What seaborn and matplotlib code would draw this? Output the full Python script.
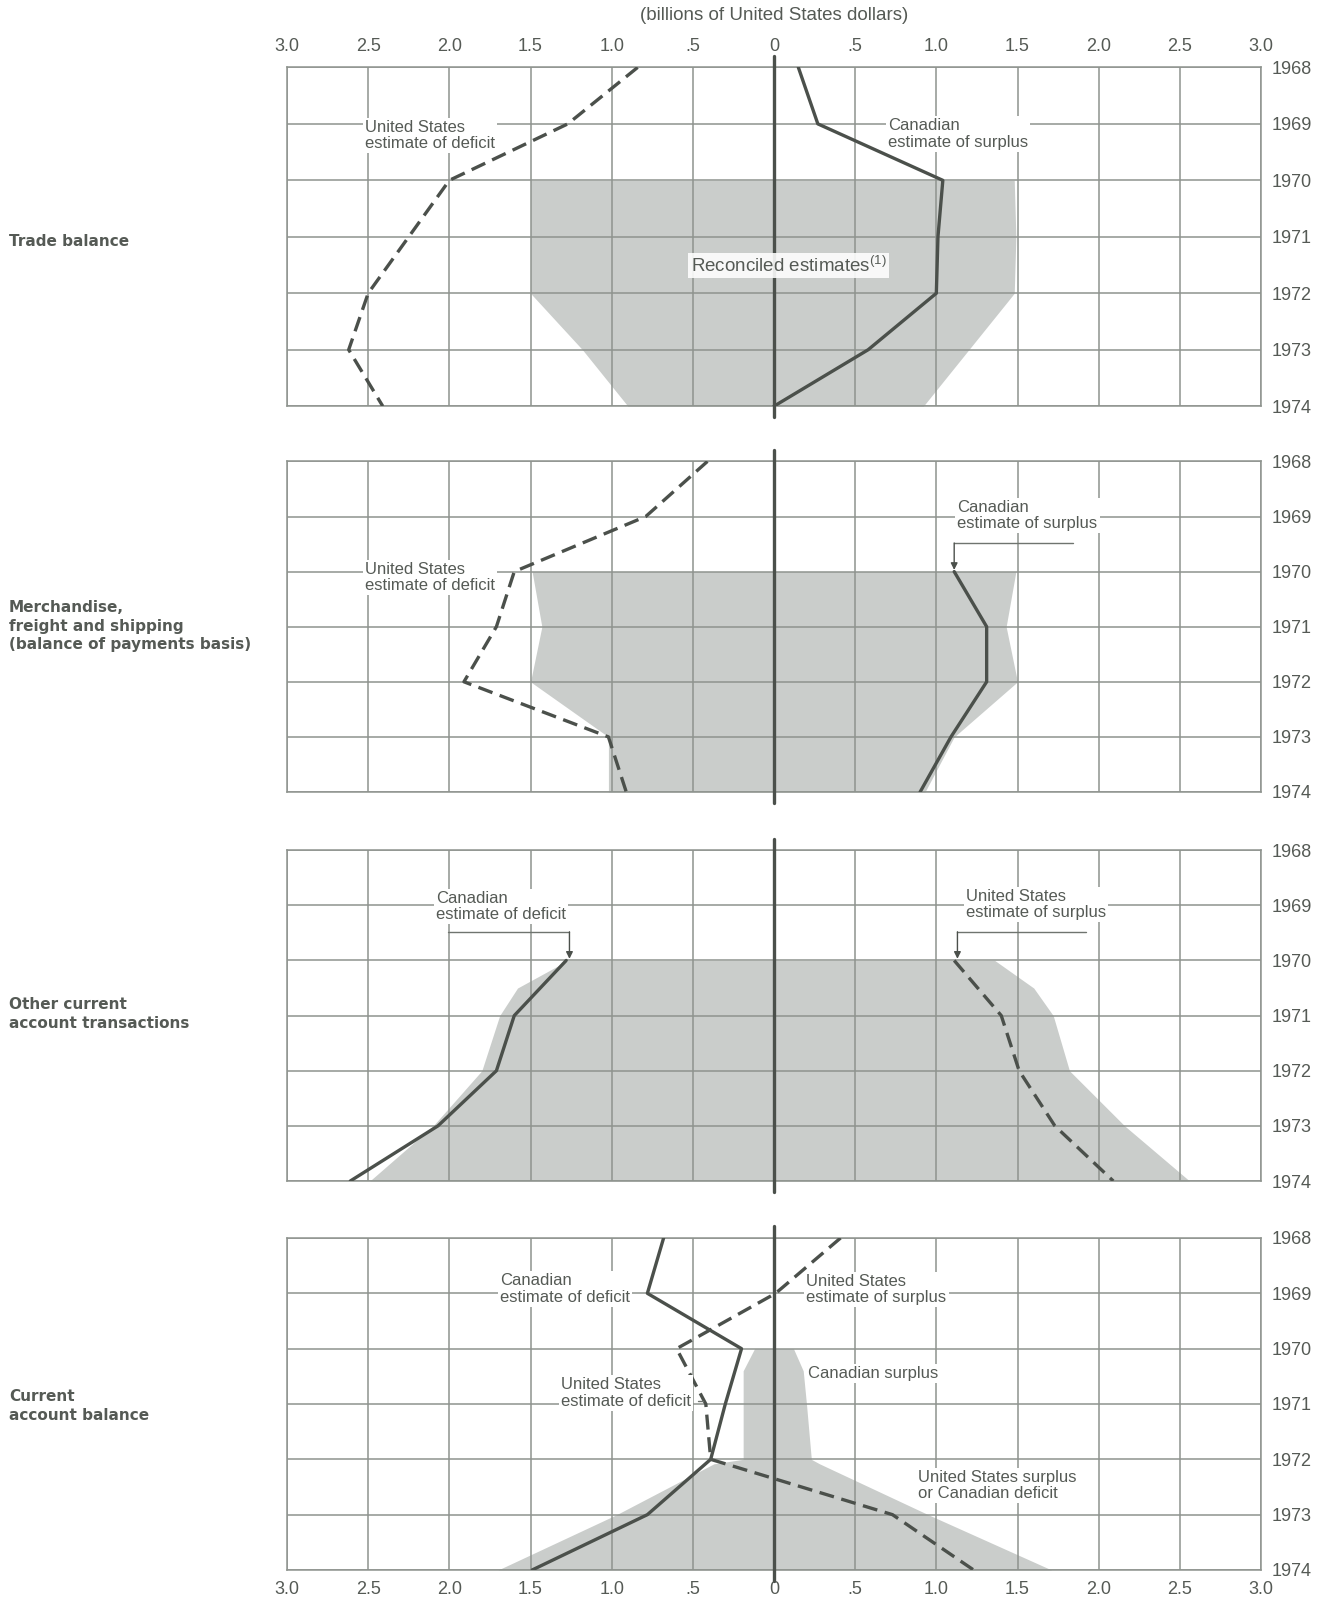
import matplotlib
matplotlib.use("Agg")
import matplotlib.pyplot as plt
import seaborn as sns

# ---------------------------------------------------------------
# Data (billions of US dollars; negative = plotted to the left)
# ---------------------------------------------------------------
years = [1968, 1969, 1970, 1971, 1972, 1973, 1974]
x_ticks = [-3.0, -2.5, -2.0, -1.5, -1.0, -0.5, 0.0, 0.5, 1.0, 1.5, 2.0, 2.5, 3.0]
x_tick_labels = ["3.0", "2.5", "2.0", "1.5", "1.0", ".5", "0",
                 ".5", "1.0", "1.5", "2.0", "2.5", "3.0"]
year_labels = ["1968", "1969", "1970", "1971", "1972", "1973", "1974"]

# Trade balance
trade_us_deficit = [-0.84, -1.27, -2.00, -2.25, -2.50, -2.62, -2.41]
trade_ca_surplus = [0.15, 0.27, 1.04, 1.01, 1.00, 0.58, 0.00]
trade_band_years = [1970, 1971, 1972, 1973, 1974]
trade_band_low = [-1.50, -1.50, -1.50, -1.18, -0.90]
trade_band_high = [1.48, 1.49, 1.48, 1.20, 0.92]

# Merchandise, freight and shipping
merch_us_deficit = [-0.41, -0.79, -1.60, -1.71, -1.91, -1.02, -0.91]
merch_ca_years = [1970, 1971, 1972, 1973, 1974]
merch_ca_surplus = [1.11, 1.31, 1.31, 1.09, 0.90]
merch_band_years = [1970, 1971, 1972, 1973, 1974]
merch_band_low = [-1.49, -1.43, -1.50, -1.02, -1.02]
merch_band_high = [1.49, 1.43, 1.50, 1.11, 0.93]

# Other current account transactions
other_years = [1970, 1971, 1972, 1973, 1974]
other_ca_deficit = [-1.28, -1.60, -1.71, -2.07, -2.61]
other_us_surplus = [1.11, 1.40, 1.51, 1.73, 2.09]
other_band_years = [1970, 1970.5, 1971, 1972, 1973, 1974]
other_band_low = [-1.27, -1.58, -1.69, -1.80, -2.10, -2.49]
other_band_high = [1.36, 1.60, 1.72, 1.82, 2.16, 2.56]

# Current account balance
current_ca = [-0.68, -0.78, -0.20, -0.30, -0.39, -0.78, -1.49]
current_us = [0.41, 0.01, -0.60, -0.42, -0.39, 0.73, 1.23]
current_band_years = [1970, 1970.4, 1971, 1972, 1972.08, 1973, 1974]
current_band_low = [-0.12, -0.19, -0.19, -0.19, -0.37, -0.97, -1.70]
current_band_high = [0.12, 0.18, 0.20, 0.23, 0.28, 0.95, 1.71]

# ---------------------------------------------------------------
# Style
# ---------------------------------------------------------------
sns.set_theme(style="white")
plt.rcParams["font.family"] = ["Liberation Sans", "DejaVu Sans"]
plt.rcParams["mathtext.default"] = "regular"

LINE = "#4b504b"
GRID = "#8e938e"
BAND = "#cacdcb"
TXT = "#555a55"
LEADER = "#6f746f"
DASH = (0, (4.5, 2.3))
NOTE_SIZE = 12

fig = plt.figure(figsize=(13.33, 16), dpi=100)

# panel extents in pixels (top, bottom)
panel_px = [(67.4, 406.2), (461.4, 792.0), (850.2, 1181.0), (1238.0, 1570.0)]
left, right = 287 / 1333, 1261 / 1333

axes = []
for i, (top, bot) in enumerate(panel_px):
    ax = fig.add_axes([left, 1 - bot / 1600, right - left, (bot - top) / 1600])
    ax.set_xlim(-3, 3)
    ax.set_ylim(1974, 1968)
    ax.set_xticks(x_ticks)
    ax.set_yticks(years)
    ax.set_yticklabels(year_labels)
    ax.yaxis.tick_right()
    ax.grid(True, color=GRID, lw=1.1, zorder=1)
    ax.set_axisbelow(False)
    ax.tick_params(axis="y", length=0, pad=8, labelsize=13, labelcolor=TXT,
                   left=False, right=False, labelleft=False, labelright=True)
    ax.tick_params(axis="x", length=0, labelsize=13, labelcolor=TXT)
    if i == 0:
        ax.xaxis.tick_top()
        ax.set_xticklabels(x_tick_labels)
        ax.tick_params(axis="x", pad=9, labeltop=True, labelbottom=False)
    elif i == 3:
        ax.set_xticklabels(x_tick_labels)
        ax.tick_params(axis="x", pad=8, labelbottom=True, labeltop=False)
    else:
        ax.tick_params(axis="x", labelbottom=False, labeltop=False)
    for sp in ax.spines.values():
        sp.set_color(GRID)
        sp.set_linewidth(1.1)
        sp.set_zorder(1)
    ax.set_xlabel("")
    ax.set_ylabel("")
    ax.axvline(0, ymin=-0.032, ymax=1.035, color=LINE, lw=2.4,
               clip_on=False, zorder=4)
    axes.append(ax)


def band(ax, ys, lo, hi):
    ax.fill_betweenx(ys, lo, hi, color=BAND, lw=0, zorder=0.5)


def series(ax, xs, ys, dashed=False):
    kw = dict(color=LINE, lw=2.4, estimator=None, sort=False, orient="y",
              ax=ax, zorder=4)
    sns.lineplot(x=xs, y=ys, **kw)
    if dashed:
        ax.lines[-1].set_linestyle(DASH)
        ax.lines[-1].set_dash_capstyle("butt")


def label(ax, x, y, s, ha="left"):
    ax.text(x, y, s, ha=ha, va="center", fontsize=NOTE_SIZE, color=TXT,
            linespacing=1.1, zorder=5,
            bbox=dict(facecolor="white", edgecolor="none", pad=1.5))


def leader(ax, x_from, x_to, y, y_end):
    ax.plot([x_from, x_to], [y, y], color=LEADER, lw=1.0, zorder=5)
    ax.annotate("", xy=(x_to, y_end), xytext=(x_to, y),
                arrowprops=dict(arrowstyle="-|>", color=LINE, lw=1.0,
                                mutation_scale=10, shrinkA=0, shrinkB=0),
                zorder=5)


# --- Trade balance ---
ax = axes[0]
band(ax, trade_band_years, trade_band_low, trade_band_high)
series(ax, trade_us_deficit, years, dashed=True)
series(ax, trade_ca_surplus, years)
label(ax, -2.52, 1969.2, "United States\nestimate of deficit")
label(ax, 0.70, 1969.18, "Canadian\nestimate of surplus")
ax.text(0.09, 1971.51, "Reconciled estimates$^{(1)}$", ha="center",
        va="center", fontsize=13.5, color=TXT, zorder=5,
        bbox=dict(facecolor="white", edgecolor="none", pad=2.0, alpha=0.88))

# --- Merchandise, freight and shipping ---
ax = axes[1]
band(ax, merch_band_years, merch_band_low, merch_band_high)
series(ax, merch_us_deficit, years, dashed=True)
series(ax, merch_ca_surplus, merch_ca_years)
label(ax, 1.13, 1968.98, "Canadian\nestimate of surplus")
leader(ax, 1.84, 1.11, 1969.48, 1969.97)
label(ax, -2.52, 1970.11, "United States\nestimate of deficit")

# --- Other current account transactions ---
ax = axes[2]
band(ax, other_band_years, other_band_low, other_band_high)
series(ax, other_ca_deficit, other_years)
series(ax, other_us_surplus, other_years, dashed=True)
label(ax, -2.08, 1969.02, "Canadian\nestimate of deficit")
leader(ax, -2.01, -1.26, 1969.48, 1969.97)
label(ax, 1.18, 1968.98, "United States\nestimate of surplus")
leader(ax, 1.92, 1.13, 1969.48, 1969.97)

# --- Current account balance ---
ax = axes[3]
band(ax, current_band_years, current_band_low, current_band_high)
series(ax, current_ca, years)
series(ax, current_us, years, dashed=True)
label(ax, -1.69, 1968.92, "Canadian\nestimate of deficit")
label(ax, 0.20, 1968.93, "United States\nestimate of surplus")
label(ax, 0.21, 1970.44, "Canadian surplus")
label(ax, -1.31, 1970.80, "United States\nestimate of deficit")
ax.plot([-0.47, -0.44], [1970.95, 1970.95], color=LEADER, lw=1.0, zorder=5)
label(ax, 0.89, 1972.48, "United States surplus\nor Canadian deficit")

# --- titles ---
fig.text(774 / 1333, 1 - 15 / 1600, "(billions of United States dollars)",
         ha="center", va="center", fontsize=13.5, color=TXT)

panel_titles = ["Trade balance",
                "Merchandise,\nfreight and shipping\n(balance of payments basis)",
                "Other current\naccount transactions",
                "Current\naccount balance"]
title_y = [242, 626, 1014, 1406]
for t, y in zip(panel_titles, title_y):
    fig.text(9 / 1333, 1 - y / 1600, t, ha="left", va="center",
             fontsize=11, fontweight="bold", color=TXT, linespacing=1.3,
             family=["DejaVu Sans"])

fig.savefig("out.png", dpi=100, facecolor="white")
